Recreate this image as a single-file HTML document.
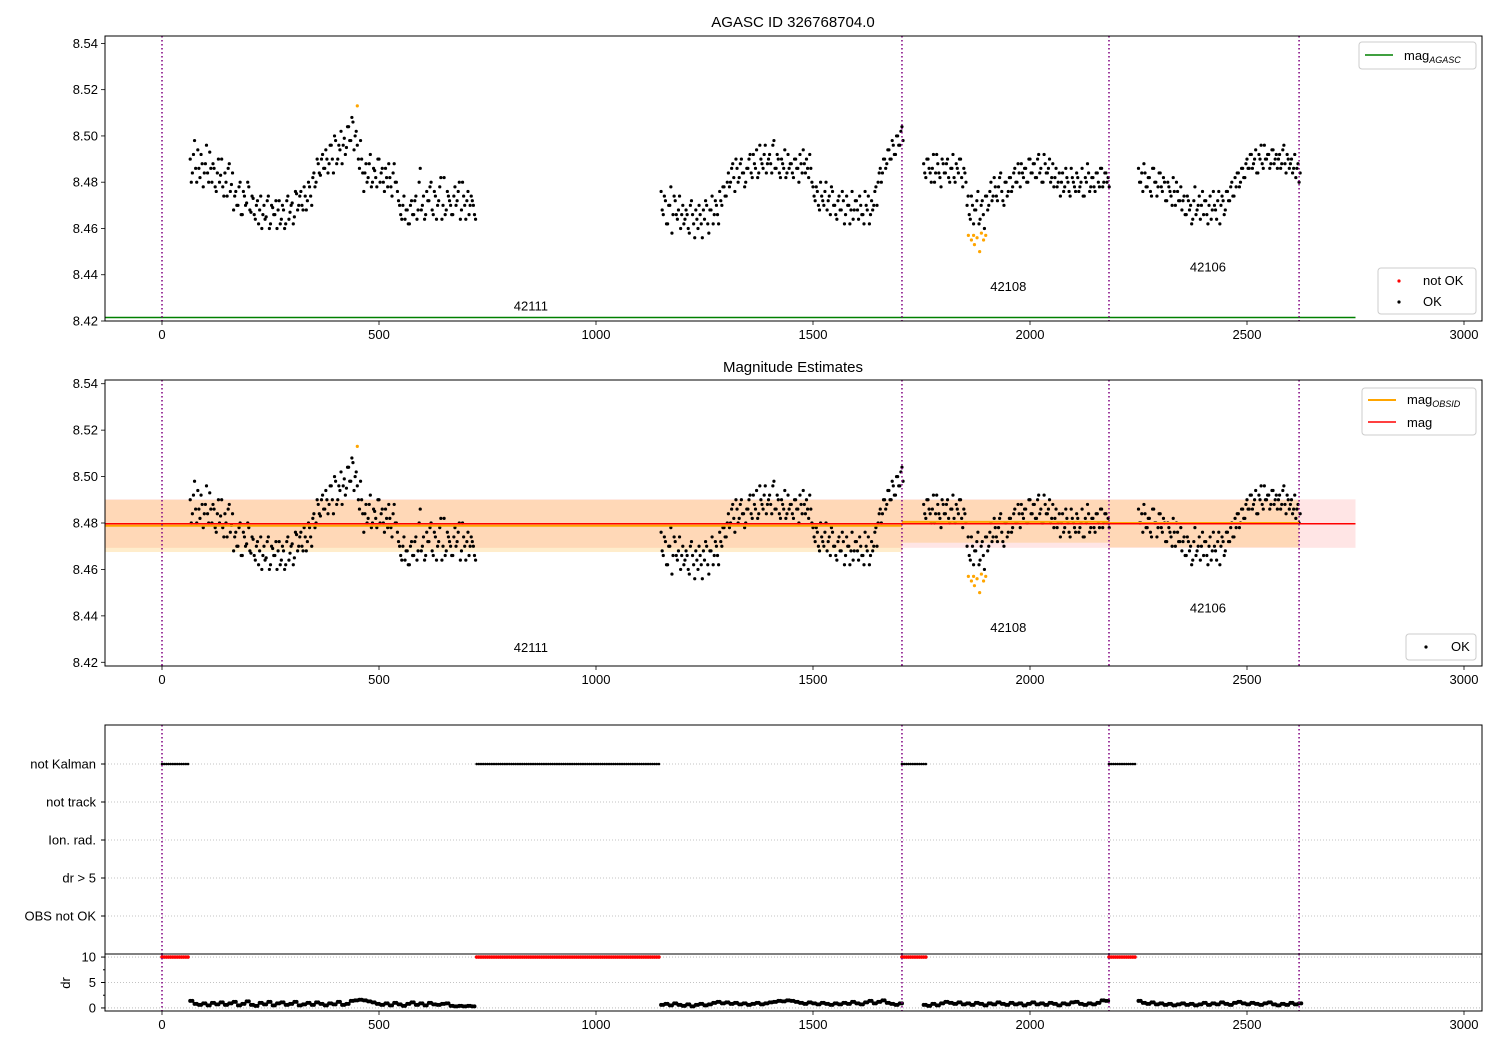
<!DOCTYPE html>
<html><head><meta charset="utf-8">
<style>
body{margin:0;background:#fff;}
svg{display:block;font-family:"Liberation Sans","DejaVu Sans",sans-serif;}
</style></head>
<body>
<svg id="c" width="1500" height="1050" viewBox="0 0 1500 1050"></svg>
<script>
// ---- data (magnitudes in milli-mag above 8.400) ----
const segStarts=[65,1150,1755,2250];
const segStep=5;
const magA=[90,84,98,80,86,92,78,88,84,93,80,86,76,90,83,78,84,74,88,79,68,76,70,80,66,74,71,78,67,73,64,72,68,60,70,65,74,62,69,66,60,72,64,68,62,74,67,71,65,75,70,76,68,74,72,78,70,84,80,88,83,92,86,90,88,96,84,98,90,94,88,99,95,104,98,106,100,96,86,90,76,88,82,92,80,85,78,90,84,80,86,78,82,74,88,80,72,66,70,64,68,62,72,66,74,68,86,70,64,76,72,80,66,74,70,78,64,82,68,74,70,66,78,72,80,68,74,64,76,70,72,66];
const magB=[76,66,72,62,70,58,74,66,68,60,70,64,66,58,72,62,68,60,66,56,64,70,58,68,62,72,66,76,70,78,74,84,80,88,76,86,82,90,84,80,86,92,82,88,94,84,90,86,96,88,92,84,98,86,90,82,88,94,84,86,88,82,90,86,92,84,88,90,82,86,78,72,76,68,74,70,80,72,66,76,70,64,74,68,72,66,70,62,76,68,72,64,70,66,76,68,62,72,70,78,80,86,84,90,88,94,90,96,92,100,96,104];
const magC=[88,82,90,84,86,80,92,84,78,88,84,90,80,86,82,88,84,90,78,84,70,66,74,62,68,76,64,72,60,74,70,80,74,78,72,82,76,70,80,76,82,78,86,80,84,88,82,86,80,90,84,88,82,92,86,80,88,84,90,82,78,86,80,74,84,78,82,76,86,80,76,82,78,86,74,80,84,78,82,76,84,78,86,80,84,82];
const magD=[86,80,76,84,78,82,74,86,80,78,84,76,80,72,78,74,82,70,76,72,68,74,66,72,70,64,78,68,74,70,66,72,62,74,68,70,64,76,70,72,68,76,72,80,74,78,84,80,86,82,90,86,92,88,94,84,90,88,96,90,92,88,94,90,86,92,88,96,84,90,88,84,92,86,80];
// second sample set, offset half a step
const magA2=[80,92,86,94,82,88,84,96,80,86,88,78,84,80,90,74,80,86,76,84,74,70,78,66,76,70,80,68,74,66,70,62,74,66,64,72,60,70,66,72,68,62,70,60,72,64,70,62,76,68,74,70,78,68,80,74,82,78,90,84,90,86,94,84,96,90,100,88,96,102,96,92,104,98,108,94,102,90,98,84,84,80,88,78,86,82,90,80,86,76,82,88,78,84,80,76,70,64,74,68,62,70,66,72,64,80,68,74,66,72,78,68,76,64,72,82,70,66,76,72,66,74,70,76,64,80,70,72,66,74,70,64];
const magB2=[68,74,62,70,78,66,72,64,74,66,62,68,60,70,66,56,64,70,62,68,72,62,68,74,66,70,62,72,78,74,80,78,86,82,90,80,88,84,78,86,90,84,92,86,82,96,88,92,84,90,88,96,86,92,84,90,86,82,92,88,84,90,86,80,88,94,84,86,92,80,74,78,70,80,72,76,68,74,78,70,66,72,68,76,62,74,70,68,64,72,68,74,66,62,70,74,66,68,76,70,84,80,90,86,94,90,98,92,100,96,102,98];
const magC2=[84,90,86,80,92,84,88,82,90,84,88,82,86,92,80,86,90,82,86,80,74,64,70,68,72,62,70,66,74,68,76,72,82,74,78,84,72,80,74,82,76,84,80,88,78,84,86,80,90,84,88,82,90,84,80,92,84,86,80,88,82,78,84,80,76,86,80,74,82,78,84,76,80,74,82,88,76,82,78,84,80,86,78,84,80,78];
const magD2=[80,84,88,78,82,76,86,80,74,84,78,82,72,80,76,70,76,80,72,78,72,66,74,68,62,72,66,70,64,76,72,66,70,64,76,68,72,62,74,66,76,72,78,74,82,84,78,86,82,88,86,92,86,90,84,92,96,86,90,92,86,94,88,92,90,86,94,88,92,86,90,86,82,88,84];
const notOkX=[450,1858,1865,1870,1872,1878,1884,1888,1893,1898];
const notOkMag=[8.513,8.457,8.455,8.457,8.453,8.456,8.450,8.458,8.455,8.457];
const obsStarts=[0,1705,2182];
const obsEnds=[1705,2182,2620];
const obsIds=["42111","42108","42106"];
const obsLabelX=[850,1950,2410];
const obsLabelMag=[8.4245,8.433,8.4415];
const obsMag=[8.4788,8.4805,8.4800];
const obsLo=[8.4675,8.4715,8.4695];
const obsHi=[8.4900,8.4900,8.4900];
const magMean=8.4797, magLo=8.4693, magHi=8.4902, magAgasc=8.4215;
const vlines=[0,1705,2182,2620];
const kalmanStarts=[0,725,1705,2182];
const kalmanEnds=[60,1145,1760,2245];
const drStep=10;
const drA=[14,8,6,9,5,10,7,11,6,9,12,5,8,13,6,4,10,7,12,5,9,11,6,8,12,5,7,10,6,11,8,5,9,7,12,6,8,14,15,16,15,13,11,8,6,9,5,10,7,4,8,11,6,9,5,10,7,6,8,9,4,3,4,3,4,3];
const drB=[6,8,5,9,6,4,7,3,6,8,5,7,10,12,9,11,8,10,7,9,6,8,10,7,9,11,12,14,13,15,14,12,10,8,11,9,7,10,8,6,9,7,10,8,12,9,7,11,14,9,12,15,10,8,6,9];
const drC=[6,4,8,5,9,12,10,8,11,7,9,6,10,8,5,9,7,11,8,6,10,7,9,5,8,11,7,9,6,10,8,5,9,7,11,12,8,6,9,7,10,15,14];
const drD=[14,10,8,11,7,9,6,8,5,7,9,6,8,5,7,10,6,9,7,11,8,6,10,12,9,7,10,8,6,9,11,7,5,8,6,10,7,9];
const magTicks=[8.42,8.44,8.46,8.48,8.50,8.52,8.54];
const xTicks=[0,500,1000,1500,2000,2500,3000];
const flagRows=["not Kalman","not track","Ion. rad.","dr > 5","OBS not OK"];
const drTicks=[0,5,10];

// ---- helpers ----
const NS="http://www.w3.org/2000/svg";
const svg=document.getElementById('c');
function mk(tag,attrs,parent){const e=document.createElementNS(NS,tag);for(const k in attrs)e.setAttribute(k,attrs[k]);(parent||svg).appendChild(e);return e;}
const L=105,R=1482;
const X=v=>162+v*0.434;
function panelY(top,bottom,vmin,vmax){return v=>bottom-(v-vmin)/(vmax-vmin)*(bottom-top);}
const Y1=panelY(36,321,8.42,8.5432);
const Y2=panelY(380,666,8.4184,8.5416);
const rowY=[764,802,840,878,916];
const Y4=panelY(954,1011,-0.6,10.6);
const mags=[magA,magB,magC,magD];
const mags2=[magA2,magB2,magC2,magD2];
const drs=[drA,drB,drC,drD];

function frame(top,bottom,name){
  const g=mk('g',{});
  return g;
}
function xAxis(g,bottom,labels){
  xTicks.forEach(t=>{mk('line',{x1:X(t),x2:X(t),y1:bottom,y2:bottom+4,stroke:'#000','stroke-width':0.8},g);
   if(labels){const tx=mk('text',{x:X(t),y:bottom+18,'font-size':13,'text-anchor':'middle'},g);tx.textContent=t;}});
}
function magAxis(g,Y){
  magTicks.forEach(t=>{mk('line',{x1:L-4,x2:L,y1:Y(t),y2:Y(t),stroke:'#000','stroke-width':0.8},g);
   const tx=mk('text',{x:L-7,y:Y(t)+4.5,'font-size':13,'text-anchor':'end'},g);tx.textContent=t.toFixed(2);});
}
function vl(g,top,bottom){vlines.forEach(v=>mk('line',{x1:X(v),x2:X(v),y1:top,y2:bottom,stroke:'#800080','stroke-width':1.5,'stroke-dasharray':'1.5,2.5'},g));}
function scatter(g,Y){
  mags.forEach((arr,s)=>arr.forEach((m,i)=>{const c=mk('circle',{cx:X(segStarts[s]+i*segStep),cy:Y(8.4+m/1000),r:1.6,fill:'#000'},g);}));
  mags2.forEach((arr,s)=>arr.forEach((m,i)=>{const c=mk('circle',{cx:X(segStarts[s]+2.5+i*segStep),cy:Y(8.4+m/1000),r:1.6,fill:'#000'},g);}));
  notOkX.forEach((x,i)=>{const c=mk('circle',{cx:X(x),cy:Y(notOkMag[i]),r:1.6,fill:'orange'},g);});
}
function obsLabels(g,Y){obsIds.forEach((id,i)=>{const t=mk('text',{x:X(obsLabelX[i]),y:Y(obsLabelMag[i]),'font-size':13,'text-anchor':'middle'},g);t.textContent=id;});}

// ---- panel 1 ----
let g=frame(36,321,'agasc-panel');
let t=mk('text',{x:793,y:27,'font-size':15,'text-anchor':'middle'},g);t.textContent='AGASC ID 326768704.0';
mk('line',{x1:L,x2:X(2750),y1:Y1(magAgasc),y2:Y1(magAgasc),stroke:'green','stroke-width':1.5},g);
scatter(g,Y1);vl(g,36,321);obsLabels(g,Y1);
mk('rect',{x:L,y:36,width:R-L,height:285,fill:'none',stroke:'#000','stroke-width':1},g);
magAxis(g,Y1);xAxis(g,321,true);
let lg=mk('g',{},g);
mk('rect',{x:1359,y:42,width:117,height:27,rx:3,fill:'#fff',stroke:'#ccc'},lg);
mk('line',{x1:1365,x2:1393,y1:55,y2:55,stroke:'green','stroke-width':1.5},lg);
t=mk('text',{x:1404,y:60,'font-size':13},lg);t.innerHTML='mag<tspan font-size="9" font-style="italic" dy="3">AGASC</tspan>';
lg=mk('g',{},g);
mk('rect',{x:1378,y:268,width:98,height:46,rx:3,fill:'#fff',stroke:'#ccc'},lg);
mk('circle',{cx:1399,cy:281,r:1.6,fill:'red'},lg);mk('circle',{cx:1399,cy:302,r:1.6,fill:'#000'},lg);
t=mk('text',{x:1423,y:285,'font-size':13},lg);t.textContent='not OK';
t=mk('text',{x:1423,y:306,'font-size':13},lg);t.textContent='OK';

// ---- panel 2 ----
g=frame(380,666,'estimates-panel');
t=mk('text',{x:793,y:372,'font-size':15,'text-anchor':'middle'},g);t.textContent='Magnitude Estimates';
mk('rect',{x:L,y:Y2(magHi),width:X(2750)-L,height:Y2(magLo)-Y2(magHi),fill:'rgba(255,0,0,0.1)'},g);
obsStarts.forEach((s,i)=>{const x0=i==0?L:X(s);mk('rect',{x:x0,y:Y2(obsHi[i]),width:X(obsEnds[i])-x0,height:Y2(obsLo[i])-Y2(obsHi[i]),fill:'rgba(255,165,0,0.2)'},g);});
scatter(g,Y2);
obsStarts.forEach((s,i)=>{const x0=i==0?L:X(s);mk('line',{x1:x0,x2:X(obsEnds[i]),y1:Y2(obsMag[i]),y2:Y2(obsMag[i]),stroke:'orange','stroke-width':2},g);});
mk('line',{x1:L,x2:X(2750),y1:Y2(magMean),y2:Y2(magMean),stroke:'red','stroke-width':1.5},g);
vl(g,380,666);obsLabels(g,Y2);
mk('rect',{x:L,y:380,width:R-L,height:286,fill:'none',stroke:'#000','stroke-width':1},g);
magAxis(g,Y2);xAxis(g,666,true);
lg=mk('g',{},g);
mk('rect',{x:1362,y:388,width:114,height:47,rx:3,fill:'#fff',stroke:'#ccc'},lg);
mk('line',{x1:1368,x2:1396,y1:400,y2:400,stroke:'orange','stroke-width':2},lg);
mk('line',{x1:1368,x2:1396,y1:422,y2:422,stroke:'red','stroke-width':1.5},lg);
t=mk('text',{x:1407,y:404,'font-size':13},lg);t.innerHTML='mag<tspan font-size="9" font-style="italic" dy="3">OBSID</tspan>';
t=mk('text',{x:1407,y:427,'font-size':13},lg);t.textContent='mag';
lg=mk('g',{},g);
mk('rect',{x:1406,y:634,width:70,height:26,rx:3,fill:'#fff',stroke:'#ccc'},lg);
mk('circle',{cx:1426,cy:647,r:1.6,fill:'#000'},lg);
t=mk('text',{x:1451,y:651,'font-size':13},lg);t.textContent='OK';

// ---- panel 3 (flags) ----
g=frame(725,954,'flags-panel');
flagRows.forEach((r,i)=>{mk('line',{x1:L,x2:R,y1:rowY[i],y2:rowY[i],stroke:'#b0b0b0','stroke-width':0.8,'stroke-dasharray':'1,2'},g);
 mk('line',{x1:L-4,x2:L,y1:rowY[i],y2:rowY[i],stroke:'#000'},g);
 const tx=mk('text',{x:L-9,y:rowY[i]+4.5,'font-size':13,'text-anchor':'end'},g);tx.textContent=r;});
kalmanStarts.forEach((s,i)=>{for(let x=s;x<=kalmanEnds[i];x+=5){const c=mk('circle',{cx:X(x),cy:rowY[0],r:1.3,fill:'#000'},g);}});
vl(g,725,954);
mk('rect',{x:L,y:725,width:R-L,height:229,fill:'none',stroke:'#000','stroke-width':1},g);

// ---- panel 4 (dr) ----
g=frame(954,1011,'dr-panel');
drTicks.forEach(v=>{mk('line',{x1:L,x2:R,y1:Y4(v),y2:Y4(v),stroke:'#b0b0b0','stroke-width':0.8,'stroke-dasharray':'1,2'},g);
 mk('line',{x1:L-4,x2:L,y1:Y4(v),y2:Y4(v),stroke:'#000'},g);
 const tx=mk('text',{x:L-9,y:Y4(v)+4.5,'font-size':13,'text-anchor':'end'},g);tx.textContent=v;});
[2.5,7.5].forEach(v=>mk('line',{x1:L-2,x2:L,y1:Y4(v),y2:Y4(v),stroke:'#000'},g));
t=mk('text',{x:70,y:983,'font-size':13,'text-anchor':'middle',transform:'rotate(-90 70 983)'},g);t.textContent='dr';
kalmanStarts.forEach((s,i)=>{for(let x=s;x<=kalmanEnds[i];x+=5){const c=mk('circle',{cx:X(x),cy:Y4(10),r:1.8,fill:'red'},g);}});
drs.forEach((arr,s)=>arr.forEach((d,i)=>{const x0=segStarts[s]+i*drStep;[0,5].forEach(o=>{const c=mk('circle',{cx:X(x0+o),cy:Y4(d/10),r:2,fill:'#000'},g);});}));
vl(g,954,1011);
mk('rect',{x:L,y:954,width:R-L,height:57,fill:'none',stroke:'#000','stroke-width':1},g);
xAxis(g,1011,true);
</script>
</body></html>
